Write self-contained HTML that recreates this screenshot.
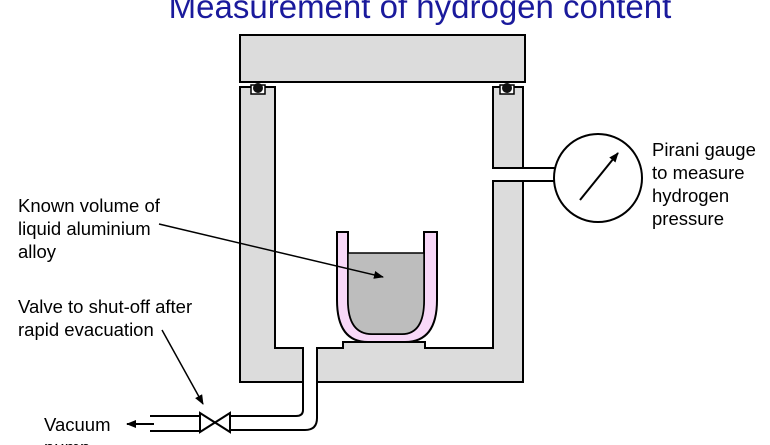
<!DOCTYPE html>
<html><head><style>
html,body{margin:0;padding:0;background:#fff;}
svg{display:block;}
text{font-family:"Liberation Sans",Arial,sans-serif;}
</style></head><body>
<svg width="770" height="445" viewBox="0 0 770 445" xmlns="http://www.w3.org/2000/svg">
<defs>
<marker id="ah" markerWidth="10" markerHeight="8" refX="9" refY="4" orient="auto" markerUnits="userSpaceOnUse"><path d="M0,0 L10,4 L0,8 Z" fill="#000"/></marker>
</defs>
<text x="420" y="18" font-size="33" fill="#1a1a9c" text-anchor="middle">Measurement of hydrogen content</text>
<rect x="240" y="35" width="285" height="47" fill="#dcdcdc" stroke="#000" stroke-width="2"/>
<path d="M240,87 L275,87 L275,348 L303,348 L303,382 L240,382 Z" fill="#dcdcdc" stroke="#000" stroke-width="2"/>
<path d="M317,382 L317,348 L343,348 L343,342 L425,342 L425,348 L493,348 L493,181 L523,181 L523,382 Z" fill="#dcdcdc" stroke="#000" stroke-width="2"/>
<rect x="493" y="87" width="30" height="81" fill="#dcdcdc" stroke="#000" stroke-width="2"/>
<rect x="251" y="85" width="14" height="9" fill="#fff" stroke="#000" stroke-width="1.5"/>
<circle cx="258" cy="88" r="5" fill="#111"/>
<rect x="500" y="85" width="14" height="9" fill="#fff" stroke="#000" stroke-width="1.5"/>
<circle cx="507" cy="88" r="5" fill="#111"/>
<path d="M337,232 L348,232 L348,300 Q348,334 372,334 L402,334 Q424,334 424,300 L424,232 L437,232 L437,300 Q437,342 405,342 L368,342 Q337,342 337,300 Z" fill="#f8d8f8" stroke="#000" stroke-width="2"/>
<path d="M348,253 L424,253 L424,300 Q424,334 402,334 L372,334 Q348,334 348,300 Z" fill="#bdbdbd" stroke="#000" stroke-width="1.5"/>
<path d="M303,382 L303,410 Q303,416 296,416 L230,416" fill="none" stroke="#000" stroke-width="2"/>
<path d="M317,382 L317,418 Q317,430 305,430 L230,430" fill="none" stroke="#000" stroke-width="2"/>
<path d="M200,413 L230,432 L230,413 L200,432 Z" fill="#fff" stroke="#000" stroke-width="2"/>
<line x1="150" y1="416" x2="200" y2="416" stroke="#000" stroke-width="2"/>
<line x1="150" y1="431" x2="200" y2="431" stroke="#000" stroke-width="2"/>
<line x1="154" y1="424" x2="127" y2="424" stroke="#000" stroke-width="2" marker-end="url(#ah)"/>
<line x1="523" y1="168" x2="557" y2="168" stroke="#000" stroke-width="2"/>
<line x1="523" y1="181" x2="557" y2="181" stroke="#000" stroke-width="2"/>
<circle cx="598" cy="178" r="44" fill="#fff" stroke="#000" stroke-width="2"/>
<line x1="580" y1="200" x2="618" y2="153" stroke="#000" stroke-width="2" marker-end="url(#ah)"/>
<line x1="159" y1="224" x2="383" y2="277" stroke="#000" stroke-width="1.5" marker-end="url(#ah)"/>
<line x1="162" y1="330" x2="203" y2="404" stroke="#000" stroke-width="1.5" marker-end="url(#ah)"/>
<g font-size="18.5" fill="#000">
<text x="18" y="212">Known volume of</text>
<text x="18" y="235">liquid aluminium</text>
<text x="18" y="258">alloy</text>
<text x="18" y="313">Valve to shut-off after</text>
<text x="18" y="336">rapid evacuation</text>
<text x="44" y="431">Vacuum</text>
<text x="44" y="454">pump</text>
<text x="652" y="156">Pirani gauge</text>
<text x="652" y="179">to measure</text>
<text x="652" y="202">hydrogen</text>
<text x="652" y="225">pressure</text>
</g>
</svg>
</body></html>
